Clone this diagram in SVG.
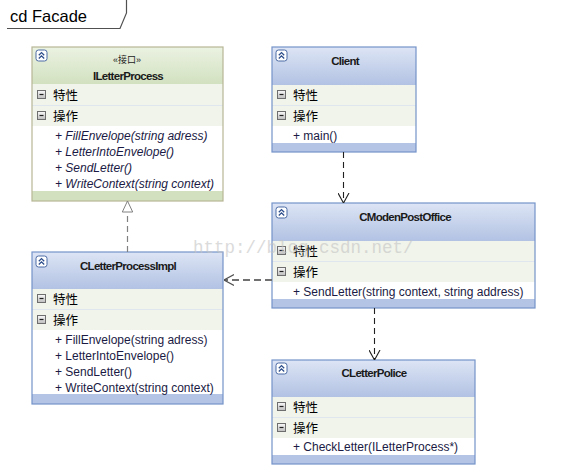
<svg xmlns="http://www.w3.org/2000/svg" width="579" height="473" viewBox="0 0 579 473">
<defs>
<linearGradient id="gBlue" x1="0" y1="0" x2="0" y2="1"><stop offset="0" stop-color="#dde5f5"/><stop offset="1" stop-color="#b2c2e3"/></linearGradient>
<linearGradient id="gGreen" x1="0" y1="0" x2="0" y2="1"><stop offset="0" stop-color="#ebf2e2"/><stop offset="1" stop-color="#d2e1c0"/></linearGradient>
<linearGradient id="gMin" x1="0" y1="0" x2="0" y2="1"><stop offset="0" stop-color="#fafafa"/><stop offset="1" stop-color="#bdbdbd"/></linearGradient>
<g id="collapse"><rect x="0" y="0" width="11" height="11" rx="2.5" fill="#ffffff" stroke="#4d6ca5" stroke-width="1"/><path d="M2.8 5.3 L5.5 2.6 L8.2 5.3 M2.8 8.5 L5.5 5.8 L8.2 8.5" fill="none" stroke="#2e4f8c" stroke-width="1.3"/></g>
<g id="minus"><rect x="0.5" y="0.5" width="8" height="8" fill="url(#gMin)" stroke="#6e6e6e" stroke-width="1"/><line x1="2.5" y1="4.5" x2="6.5" y2="4.5" stroke="#202020" stroke-width="1.2"/></g>
<marker id="open" viewBox="0 0 10 12" refX="10" refY="6" markerWidth="10" markerHeight="12" markerUnits="userSpaceOnUse" orient="auto"><path d="M0 0.5 L10 6 L0 11.5" fill="none" stroke="#202020" stroke-width="1.1"/></marker>
<marker id="openGray" viewBox="0 0 10 12" refX="10" refY="6" markerWidth="10" markerHeight="12" markerUnits="userSpaceOnUse" orient="auto"><path d="M0 0.5 L10 6 L0 11.5" fill="none" stroke="#505050" stroke-width="1.1"/></marker>
<marker id="tri" viewBox="0 0 12 12" refX="11.5" refY="6" markerWidth="12" markerHeight="12" markerUnits="userSpaceOnUse" orient="auto"><path d="M0.5 0.8 L11.5 6 L0.5 11.2 Z" fill="#ffffff" stroke="#808080" stroke-width="1"/></marker>
</defs>
<style>
.name{font-family:"Liberation Sans",Arial,sans-serif;font-weight:bold;font-size:11.5px;letter-spacing:-0.7px;fill:#1a1a1a;text-anchor:middle}
.stereo{font-family:"Liberation Sans","Noto Sans CJK SC",sans-serif;font-size:9px;fill:#1a1a1a;text-anchor:middle}
.sec{font-family:"Noto Sans CJK SC",sans-serif;font-size:12.5px;fill:#000000}
.mem{font-family:"Liberation Sans",Arial,sans-serif;font-size:12px;fill:#1a1a44}
.it{font-style:italic}
.row{fill:#f1f4eb}
.body{fill:#ffffff}
.sep{stroke:#dfe6ee;stroke-width:1}
.bbox{fill:none;stroke:#7593c9;stroke-width:1.2}
.gbox{fill:none;stroke:#b7b697;stroke-width:1.2}
.wm{font-family:"Liberation Mono","DejaVu Sans Mono",monospace;font-size:17.5px;fill:#c4c4c4;opacity:0.6}
</style>
<rect x="0" y="0" width="579" height="473" fill="#ffffff"/>

<g id="frame">
<path d="M7 28.5 L120 28.5 L126.5 13 L126.5 0" fill="none" stroke="#505050" stroke-width="1.2"/>
<text x="10" y="21.5" font-family="Liberation Sans,Arial,sans-serif" font-size="16.5" fill="#000000">cd Facade</text>
</g>

<g id="ILetterProcess">
<rect x="32" y="47" width="191" height="154" class="body"/>
<rect x="32" y="47" width="191" height="37" fill="url(#gGreen)"/>
<rect x="32" y="84" width="191" height="21" class="row"/>
<rect x="32" y="106" width="191" height="20" class="row"/>
<line x1="32" y1="105.5" x2="223" y2="105.5" class="sep"/>
<rect x="32" y="191" width="191" height="10" fill="#d2e0bf"/>
<rect x="32" y="47" width="191" height="154" class="gbox"/>
<use href="#collapse" x="36" y="50"/>
<text x="127" y="63" class="stereo">«接口»</text>
<text x="128" y="80" class="name">ILetterProcess</text>
<use href="#minus" x="37" y="90"/>
<text x="53" y="100" class="sec">特性</text>
<use href="#minus" x="37" y="111"/>
<text x="53" y="121" class="sec">操作</text>
<text x="55" y="140" class="mem it">+ FillEnvelope(string adress)</text>
<text x="55" y="156" class="mem it">+ LetterIntoEnvelope()</text>
<text x="55" y="172" class="mem it">+ SendLetter()</text>
<text x="55" y="188" class="mem it">+ WriteContext(string context)</text>
</g>

<g id="Client">
<rect x="272" y="47" width="144" height="105" class="body"/>
<rect x="272" y="47" width="144" height="38" fill="url(#gBlue)"/>
<rect x="272" y="85" width="144" height="20" class="row"/>
<rect x="272" y="106" width="144" height="20" class="row"/>
<line x1="272" y1="105.5" x2="416" y2="105.5" class="sep"/>
<rect x="272" y="143" width="144" height="9" fill="#b4c4e4"/>
<rect x="272" y="47" width="144" height="105" class="bbox"/>
<use href="#collapse" x="276" y="50"/>
<text x="345" y="65" class="name">Client</text>
<use href="#minus" x="277" y="90"/>
<text x="293" y="100" class="sec">特性</text>
<use href="#minus" x="277" y="111"/>
<text x="293" y="121" class="sec">操作</text>
<text x="293" y="140" class="mem">+ main()</text>
</g>

<g id="CModenPostOffice">
<rect x="272" y="203" width="263" height="105" class="body"/>
<rect x="272" y="203" width="263" height="38" fill="url(#gBlue)"/>
<rect x="272" y="241" width="263" height="20" class="row"/>
<rect x="272" y="262" width="263" height="20" class="row"/>
<line x1="272" y1="261.5" x2="535" y2="261.5" class="sep"/>
<rect x="272" y="299" width="263" height="9" fill="#b4c4e4"/>
<rect x="272" y="203" width="263" height="105" class="bbox"/>
<use href="#collapse" x="276" y="207"/>
<text x="405" y="221" class="name">CModenPostOffice</text>
<use href="#minus" x="277" y="246"/>
<text x="293" y="256" class="sec">特性</text>
<use href="#minus" x="277" y="267"/>
<text x="293" y="277" class="sec">操作</text>
<text x="293" y="296" class="mem">+ SendLetter(string context, string address)</text>
</g>

<g id="CLetterProcessImpl">
<rect x="32" y="252" width="191" height="152" class="body"/>
<rect x="32" y="252" width="191" height="37" fill="url(#gBlue)"/>
<rect x="32" y="289" width="191" height="20" class="row"/>
<rect x="32" y="310" width="191" height="20" class="row"/>
<line x1="32" y1="309.5" x2="223" y2="309.5" class="sep"/>
<rect x="32" y="394" width="191" height="10" fill="#b4c4e4"/>
<rect x="32" y="252" width="191" height="152" class="bbox"/>
<use href="#collapse" x="36" y="256"/>
<text x="128" y="270" class="name">CLetterProcessImpl</text>
<use href="#minus" x="37" y="294"/>
<text x="53" y="304" class="sec">特性</text>
<use href="#minus" x="37" y="315"/>
<text x="53" y="325" class="sec">操作</text>
<text x="55" y="344" class="mem">+ FillEnvelope(string adress)</text>
<text x="55" y="360" class="mem">+ LetterIntoEnvelope()</text>
<text x="55" y="376" class="mem">+ SendLetter()</text>
<text x="55" y="392" class="mem">+ WriteContext(string context)</text>
</g>

<g id="CLetterPolice">
<rect x="272" y="360" width="203" height="104" class="body"/>
<rect x="272" y="360" width="203" height="37" fill="url(#gBlue)"/>
<rect x="272" y="397" width="203" height="20" class="row"/>
<rect x="272" y="418" width="203" height="20" class="row"/>
<line x1="272" y1="417.5" x2="475" y2="417.5" class="sep"/>
<rect x="272" y="455" width="203" height="9" fill="#b4c4e4"/>
<rect x="272" y="360" width="203" height="104" class="bbox"/>
<use href="#collapse" x="276" y="363"/>
<text x="374" y="377" class="name">CLetterPolice</text>
<use href="#minus" x="277" y="402"/>
<text x="293" y="412" class="sec">特性</text>
<use href="#minus" x="277" y="423"/>
<text x="293" y="433" class="sec">操作</text>
<text x="293" y="451" class="mem">+ CheckLetter(ILetterProcess*)</text>
</g>

<g id="connectors">
<line x1="127.5" y1="252" x2="127.5" y2="201" stroke="#808080" stroke-width="1.2" stroke-dasharray="6,4" marker-end="url(#tri)"/>
<line x1="343.5" y1="152" x2="343.5" y2="203" stroke="#202020" stroke-width="1.1" stroke-dasharray="6,4" marker-end="url(#open)"/>
<line x1="374.5" y1="308" x2="374.5" y2="360" stroke="#202020" stroke-width="1.1" stroke-dasharray="6,4" marker-end="url(#open)"/>
<line x1="272" y1="280" x2="224" y2="280" stroke="#707070" stroke-width="2" stroke-dasharray="7,4" marker-end="url(#openGray)"/>
</g>

<text x="193" y="253" class="wm">http://blog.csdn.net/</text>
</svg>
